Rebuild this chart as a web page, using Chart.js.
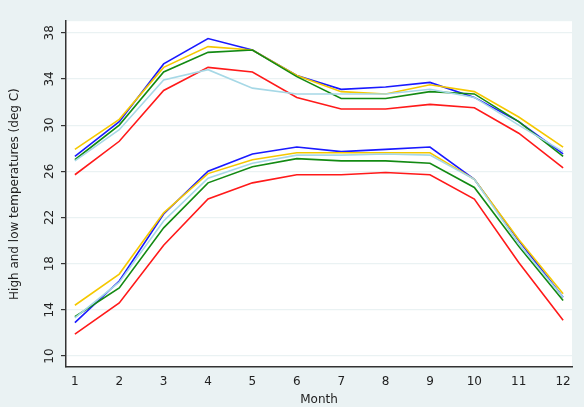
<!DOCTYPE html>
<html>
<head>
<meta charset="utf-8">
<script src="https://cdn.jsdelivr.net/npm/chart.js@4"></script>
<style>
    html, body { margin: 0; padding: 0; background: #eaf2f3; }
    #wrap { width: 584px; height: 407px; }
</style>
</head>
<body>
<div id="wrap"><canvas id="tempChart" width="584" height="407"></canvas></div>
<script>
// Dados
const months = [1, 2, 3, 4, 5, 6, 7, 8, 9, 10, 11, 12];
const yTicks = [10, 14, 18, 22, 26, 30, 34, 38];

const highBlue = [27.3, 30.3, 35.3, 37.5, 36.5, 34.3, 33.1, 33.3, 33.7, 32.4, 30.3, 27.5];
const highYellow = [27.9, 30.5, 35.0, 36.8, 36.5, 34.3, 32.9, 32.7, 33.5, 32.9, 30.7, 28.1];
const highGreen = [27.0, 30.0, 34.6, 36.3, 36.5, 34.2, 32.3, 32.3, 32.9, 32.7, 30.3, 27.3];
const highLightBlue = [26.9, 29.6, 33.9, 34.8, 33.2, 32.7, 32.7, 32.7, 33.1, 32.4, 30.0, 27.7];
const highRed = [25.7, 28.6, 33.0, 35.0, 34.6, 32.4, 31.4, 31.4, 31.8, 31.5, 29.3, 26.3];

const lowBlue = [12.9, 16.5, 22.3, 26.0, 27.5, 28.1, 27.7, 27.9, 28.1, 25.3, 20.0, 15.1];
const lowYellow = [14.4, 17.1, 22.4, 25.8, 27.0, 27.6, 27.6, 27.6, 27.6, 25.3, 20.1, 15.4];
const lowGreen = [13.4, 15.9, 21.1, 25.0, 26.4, 27.1, 26.9, 26.9, 26.7, 24.6, 19.5, 14.8];
const lowLightBlue = [13.3, 16.4, 21.7, 25.4, 26.7, 27.4, 27.4, 27.5, 27.4, 25.3, 19.7, 15.1];
const lowRed = [11.9, 14.6, 19.6, 23.6, 25.0, 25.7, 25.7, 25.9, 25.7, 23.6, 18.1, 13.1];

const colors = {
    blue: '#1a1aff',
    yellow: '#f5c800',
    green: '#138a13',
    lightBlue: '#a6d8e6',
    red: '#ff1a1a'
};

function series(values, color) {
    return {
        data: values.map((v, i) => ({ x: months[i], y: v })),
        borderColor: color,
        borderWidth: 1.6,
        pointRadius: 0,
        tension: 0
    };
}

// Fundo da área do gráfico + rótulos verticais do eixo Y
const plotDecor = {
    id: 'plotDecor',
    beforeDraw(chart) {
        const { ctx, chartArea: a } = chart;
        ctx.save();
        ctx.fillStyle = '#ffffff';
        ctx.fillRect(a.left, a.top, a.right - a.left, a.bottom - a.top);
        ctx.restore();
    },
    afterDraw(chart) {
        const { ctx } = chart;
        const y = chart.scales.y;
        ctx.save();
        ctx.fillStyle = '#222';
        ctx.font = '12px "DejaVu Sans", sans-serif';
        ctx.textAlign = 'center';
        ctx.textBaseline = 'middle';
        yTicks.forEach(t => {
            ctx.save();
            ctx.translate(50, y.getPixelForValue(t));
            ctx.rotate(-Math.PI / 2);
            ctx.fillText(String(t), 0, 0);
            ctx.restore();
        });
        ctx.restore();
    }
};

new Chart(document.getElementById('tempChart'), {
    type: 'line',
    data: {
        datasets: [
            series(highLightBlue, colors.lightBlue),
            series(highRed, colors.red),
            series(highGreen, colors.green),
            series(highYellow, colors.yellow),
            series(highBlue, colors.blue),
            series(lowLightBlue, colors.lightBlue),
            series(lowRed, colors.red),
            series(lowGreen, colors.green),
            series(lowYellow, colors.yellow),
            series(lowBlue, colors.blue)
        ]
    },
    options: {
        responsive: false,
        animation: false,
        layout: { padding: { left: 8, right: 12, top: 18, bottom: 0 } },
        plugins: { legend: { display: false }, tooltip: { enabled: false } },
        scales: {
            x: {
                type: 'linear',
                min: 0.8,
                max: 12.2,
                afterBuildTicks: (s) => { s.ticks = months.map(m => ({ value: m })); },
                afterFit: (s) => { s.height = 40; },
                grid: { display: false, drawTicks: true, tickLength: 5, color: '#333' },
                border: { color: '#333', width: 1.5 },
                ticks: { color: '#222', font: { size: 12, family: 'DejaVu Sans' }, padding: 3, maxRotation: 0 },
                title: { display: true, text: 'Month', color: '#222', font: { size: 12, family: 'DejaVu Sans' }, padding: 0 }
            },
            y: {
                min: 9.05,
                max: 39,
                afterBuildTicks: (s) => { s.ticks = yTicks.map(v => ({ value: v })); },
                afterFit: (s) => { s.width = 58; },
                grid: { color: '#eaf2f3', lineWidth: 1.2, tickLength: 5, tickColor: '#333', drawTicks: true },
                border: { color: '#333', width: 1.5 },
                ticks: { callback: () => '', padding: 14 },
                title: { display: true, text: 'High and low temperatures (deg C)', color: '#222', font: { size: 12, family: 'DejaVu Sans' }, padding: 0 }
            }
        }
    },
    plugins: [plotDecor]
});
</script>
</body>
</html>
